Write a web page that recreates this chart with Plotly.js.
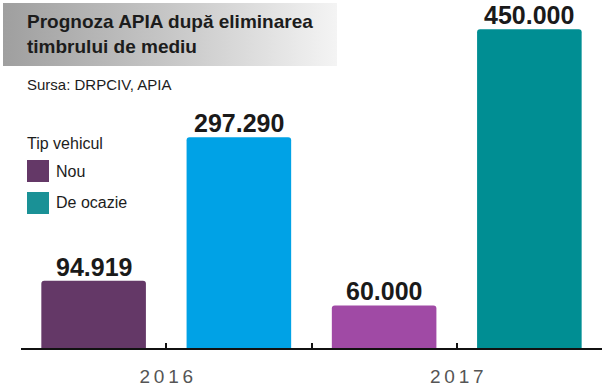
<!DOCTYPE html>
<html><head><meta charset="utf-8">
<script src="https://cdn.plot.ly/plotly-3.0.1.min.js"></script>
<style>html,body{margin:0;padding:0;background:#fff}#chart{width:605px;height:390px}</style>
</head><body><div id="chart"></div>
<script>
// Data
const years = [2016, 2017];
const yearLabels = ['2016', '2017'];
const seriesNames = ['Nou', 'De ocazie'];
const nouValues = [94919, 60000];
const ocazieValues = [297290, 450000];
const nouColors = ['#643867', '#a04aa5'];
const ocazieColors = ['#00a2e6', '#008e93'];
const legendColors = ['#643867', '#1a9196'];
const titleLines = ['Prognoza APIA după eliminarea', 'timbrului de mediu'];
const sourceText = 'Sursa: DRPCIV, APIA';
const legendTitle = 'Tip vehicul';

const W = 605, H = 390;
const M = {l: 21, r: 3, t: 15, b: 42};
const pw = W - M.l - M.r, ph = H - M.t - M.b;
const px = x => (x - M.l) / pw;
const py = y => (H - M.b - y) / ph;

const FONT = 'Liberation Sans, Arial, sans-serif';
const bargap = 0, bargroupgap = 0.28;
const slotPx = (pw / (years[1] - years[0] + 1)) * (1 - bargap) / 2;

const traces = [
  {type: 'bar', name: seriesNames[0], x: years, y: nouValues, marker: {color: nouColors}, hoverinfo: 'skip'},
  {type: 'bar', name: seriesNames[1], x: years, y: ocazieValues, marker: {color: ocazieColors}, hoverinfo: 'skip'}
];

const fmt = v => String(v).replace(/\B(?=(\d{3})+(?!\d))/g, '.');
const valueAnns = [];
[nouValues, ocazieValues].forEach((vals, si) => {
  vals.forEach((v, j) => valueAnns.push({
    text: fmt(v), x: years[j], y: v, xref: 'x', yref: 'y',
    xshift: (si === 0 ? -1 : 1) * slotPx / 2, yanchor: 'bottom', yshift: -2,
    showarrow: false, font: {family: FONT, size: 25, color: '#1a1a1a', weight: 'bold'}
  }));
});

const thin = '\u2009';
const gradSvg = '<svg xmlns="http://www.w3.org/2000/svg" width="334" height="63"><defs><linearGradient id="g" x1="0" x2="1" y1="0" y2="0"><stop offset="0" stop-color="#9f9f9f"/><stop offset="0.55" stop-color="#cbcbcb"/><stop offset="1" stop-color="#f4f4f4"/></linearGradient></defs><rect width="334" height="63" fill="url(#g)"/></svg>';

const txt = (text, x, y, size, weight, yanchor) => ({
  text, xref: 'paper', yref: 'paper', x: px(x), y: py(y), xanchor: 'left', yanchor: yanchor || 'middle',
  align: 'left', showarrow: false, font: {family: FONT, size, color: '#1c1c1c', weight: weight || 'normal'}
});

const layout = {
  width: W, height: H,
  margin: M,
  paper_bgcolor: '#ffffff', plot_bgcolor: '#ffffff',
  showlegend: false,
  barmode: 'group', bargap, bargroupgap,
  barcornerradius: 3,
  font: {family: FONT, color: '#1a1a1a'},
  xaxis: {
    range: [years[0] - 0.5, years[1] + 0.5],
    tickvals: [years[0] - 0.5, years[0], years[0] + 0.5, years[1], years[1] + 0.5],
    ticktext: ['', yearLabels[0].split('').join(thin), '', yearLabels[1].split('').join(thin), ''],
    ticks: 'inside', ticklen: 5, tickwidth: 2, tickcolor: '#111',
    showline: true, linecolor: '#111', linewidth: 2,
    showgrid: false, zeroline: false,
    tickfont: {family: FONT, size: 19, color: '#555'},
    ticklabelstandoff: 10
  },
  yaxis: {range: [0, 470000], visible: false, showgrid: false, zeroline: false},
  images: [{
    source: 'data:image/svg+xml;charset=utf-8,' + encodeURIComponent(gradSvg),
    xref: 'paper', yref: 'paper', x: px(3), y: py(3),
    sizex: px(337) - px(3), sizey: py(3) - py(66),
    xanchor: 'left', yanchor: 'top', sizing: 'stretch', layer: 'below'
  }],
  annotations: [
    txt(titleLines.join('<br>'), 25, 9, 19, 'bold', 'top'),
    txt(sourceText, 25, 84, 15),
    txt(legendTitle, 25, 143, 16),
    txt(seriesNames[0], 54, 171, 16),
    txt(seriesNames[1], 54, 203, 16)
  ].concat(valueAnns),
  shapes: [
    {type: 'rect', xref: 'paper', yref: 'paper', x0: px(27), x1: px(49), y0: py(160), y1: py(182),
     fillcolor: legendColors[0], line: {width: 0}},
    {type: 'rect', xref: 'paper', yref: 'paper', x0: px(27), x1: px(49), y0: py(192), y1: py(214),
     fillcolor: legendColors[1], line: {width: 0}}
  ]
};

Plotly.newPlot('chart', traces, layout, {staticPlot: true, displayModeBar: false});
</script></body></html>
